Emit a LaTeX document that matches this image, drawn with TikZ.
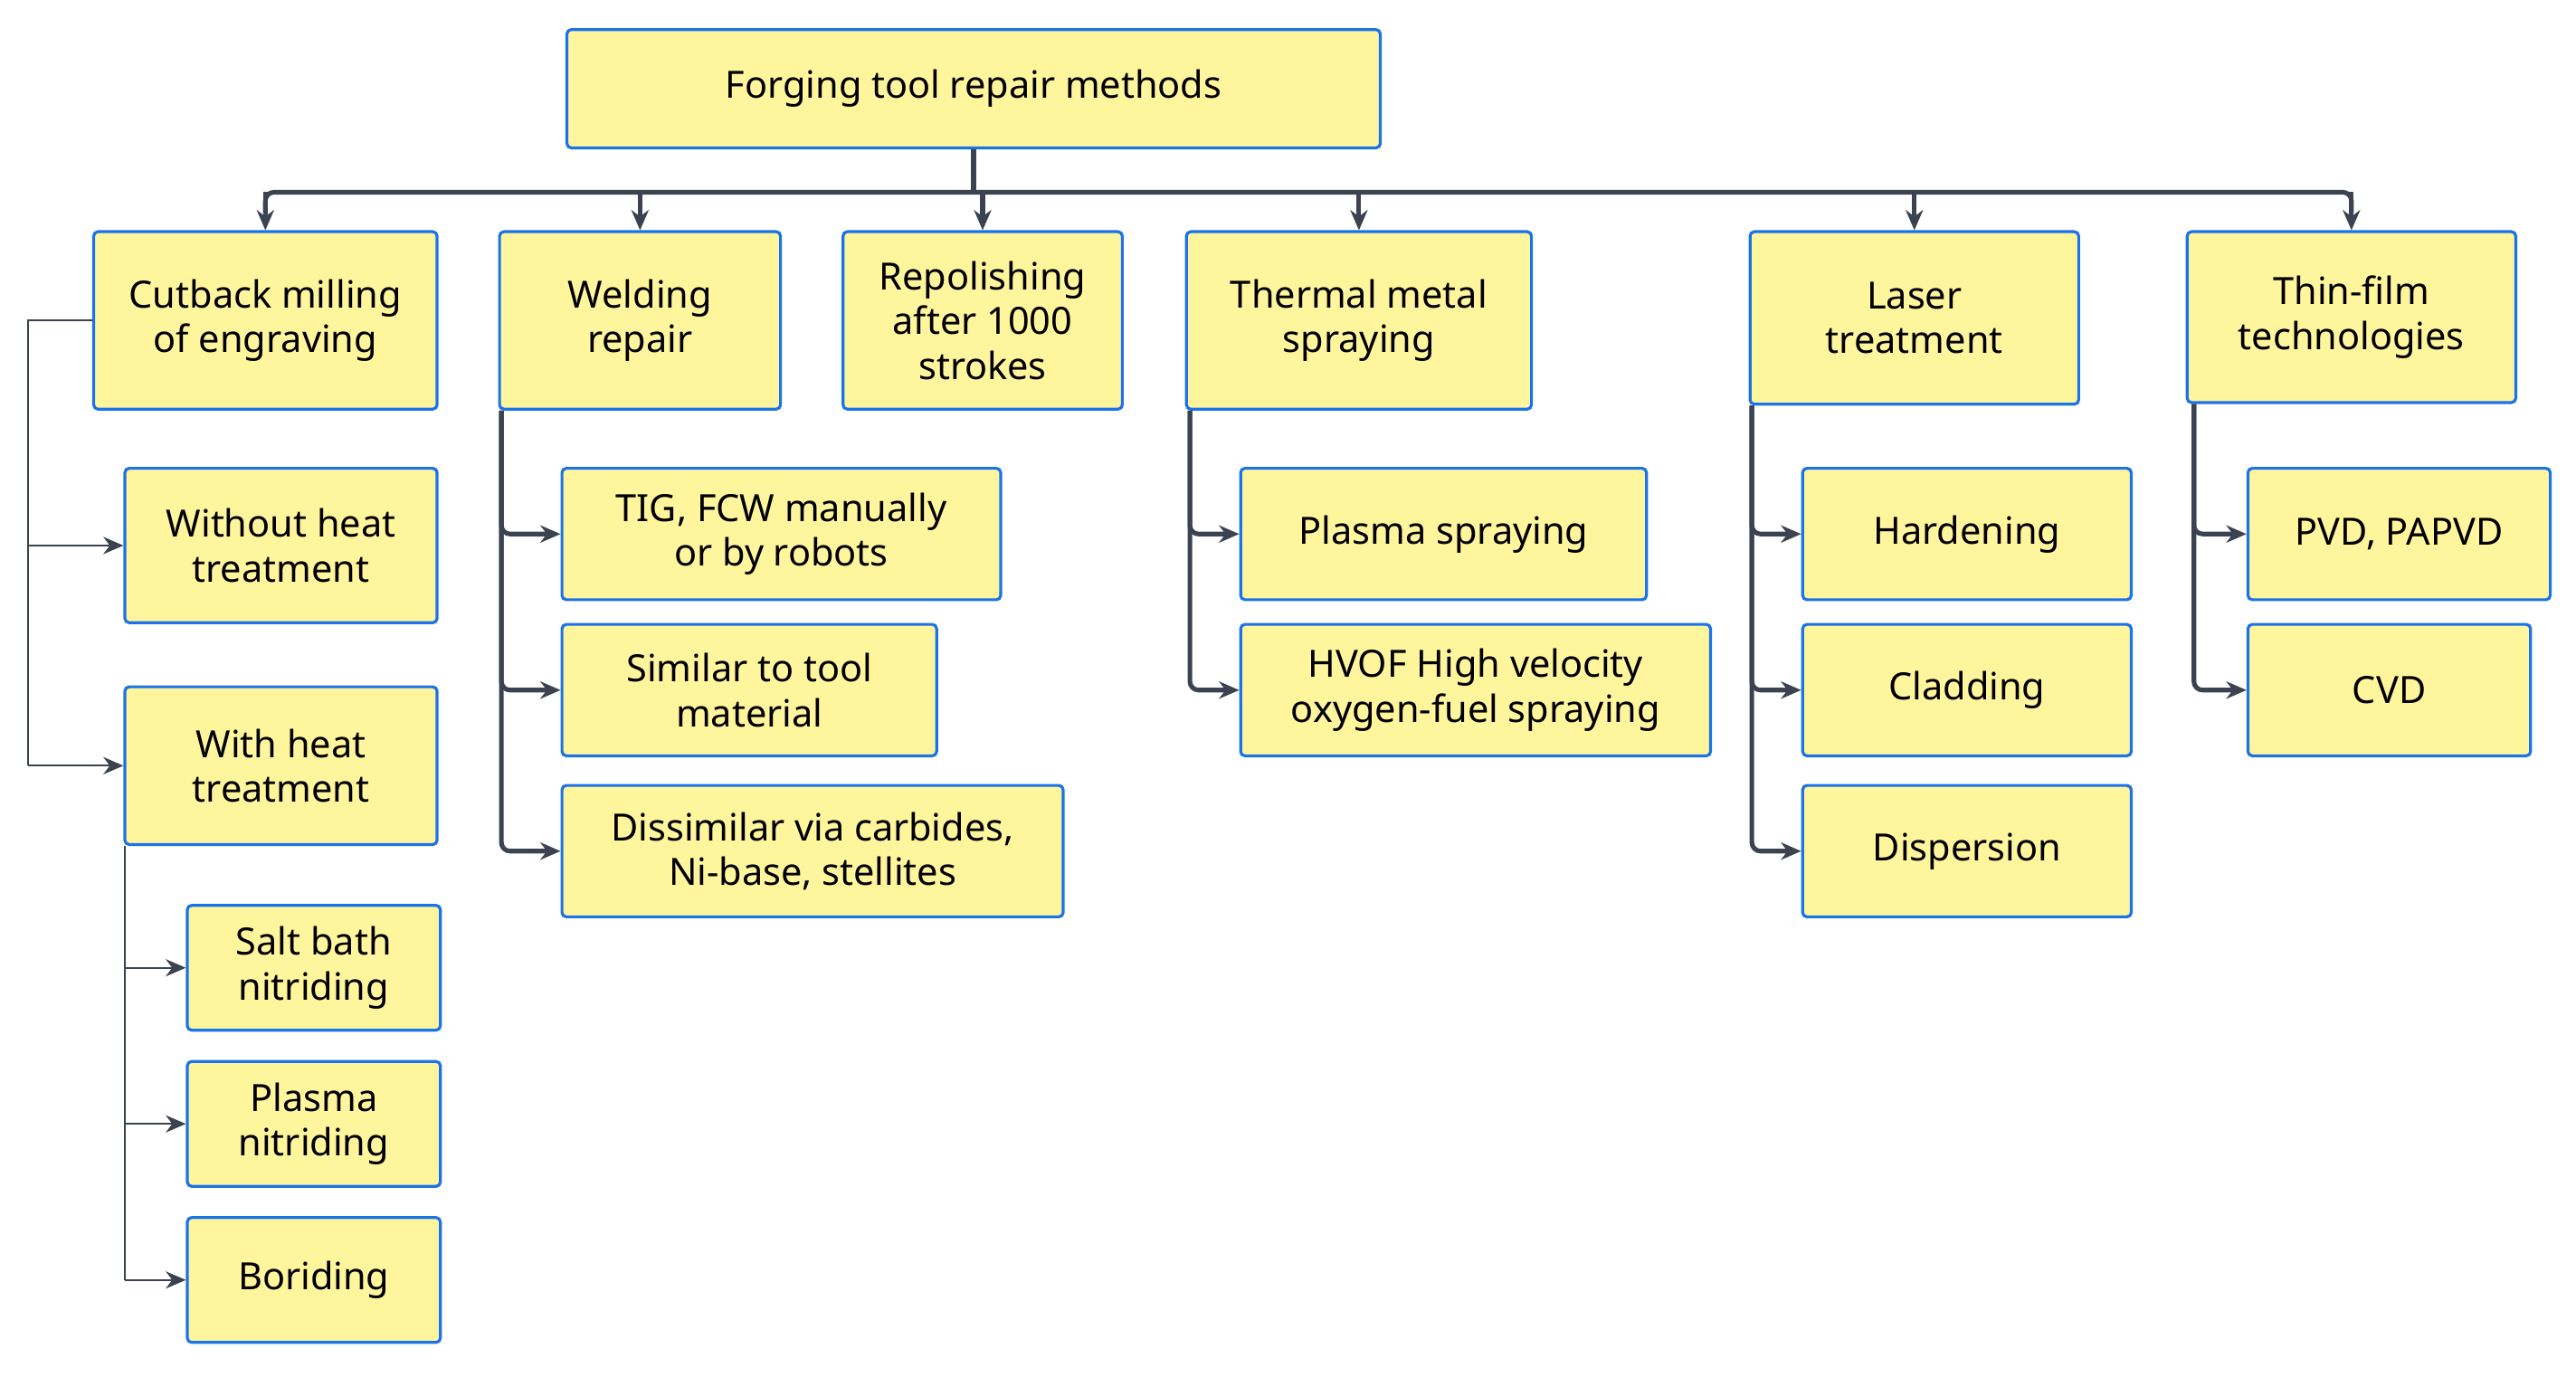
\documentclass[tikz,border=0pt]{standalone}
\usepackage{fontspec}
\setmainfont{Noto Sans}
\usetikzlibrary{arrows.meta,calc}
\definecolor{boxfill}{HTML}{FFF59D}
\definecolor{boxline}{HTML}{1A73E8}
\definecolor{ln}{HTML}{3B4350}
\tikzset{
 box/.style={draw=boxline,fill=boxfill,line width=1pt,rounded corners=1.5pt,align=center,inner sep=0pt,font=\fontsize{13}{15.5}\selectfont},
 thk/.style={draw=ln,line width=1.6pt,-{Stealth[length=7pt,width=6pt]}},
 thn/.style={draw=ln,line width=0.6pt,-{Stealth[length=7pt,width=6pt]}},
}
\newcommand\bx[6]{\node[box,minimum width={(#4-#2)*0.02cm},minimum height={(#5-#3)*0.02cm}] (#1) at ({(#2+#4)/2*0.02},{-(#3+#5)/2*0.02}) {#6};}
\begin{document}
\begin{tikzpicture}
\useasboundingbox (0,0) rectangle (31.36,-16.76);
\bx{R}{345}{18}{840}{90}{Forging tool repair methods}
\bx{A}{57}{141}{266}{249}{Cutback milling\\of engraving}
\bx{B}{304}{141}{475}{249}{Welding\\repair}
\bx{C}{513}{141}{683}{249}{Repolishing\\after 1000\\strokes}
\bx{D}{722}{141}{932}{249}{Thermal metal\\spraying}
\bx{E}{1065}{141}{1265}{246}{Laser\\treatment}
\bx{F}{1331}{141}{1531}{245}{Thin-film\\technologies}
\bx{A1}{76}{285}{266}{379}{Without heat\\treatment}
\bx{A2}{76}{418}{266}{514}{With heat\\treatment}
\bx{A21}{114}{551}{268}{627}{Salt bath\\nitriding}
\bx{A22}{114}{646}{268}{722}{Plasma\\nitriding}
\bx{A23}{114}{741}{268}{817}{Boriding}
\bx{B1}{342}{285}{609}{365}{TIG, FCW manually\\or by robots}
\bx{B2}{342}{380}{570}{460}{Similar to tool\\material}
\bx{B3}{342}{478}{647}{558}{Dissimilar via carbides,\\Ni-base, stellites}
\bx{D1}{755}{285}{1002}{365}{Plasma spraying}
\bx{D2}{755}{380}{1041}{460}{HVOF High velocity\\oxygen-fuel spraying}
\bx{E1}{1097}{285}{1297}{365}{Hardening}
\bx{E2}{1097}{380}{1297}{460}{Cladding}
\bx{E3}{1097}{478}{1297}{558}{Dispersion}
\bx{F1}{1368}{285}{1552}{365}{PVD, PAPVD}
\bx{F2}{1368}{380}{1540}{460}{CVD}
% bus
\coordinate (bus) at (0,-2.34);
\draw[draw=ln,line width=1.6pt,rounded corners=3pt] (R.south) -- (R.south|-bus);
\draw[draw=ln,line width=1.6pt,rounded corners=3pt] ($(A.north|-bus)+(0,-0.25)$) |- ($(F.north|-bus)+(0,0.0)$) -- ($(F.north|-bus)+(0,-0.25)$);
\foreach \n in {A,B,C,D,E,F}{\draw[thk] (\n.north|-bus) -- (\n.north);}
% A
\draw[draw=ln,line width=0.6pt] (A.west) -- ++(-0.78,0) coordinate (a0) -- (a0|-A2.west);
\draw[thn] (a0|-A1.west) -- (A1.west);
\draw[thn] (a0|-A2.west) -- (A2.west);
\coordinate (a2) at ($(A2.south west)+(0.02,0)$);
\draw[draw=ln,line width=0.6pt] (a2) -- (a2|-A23.west);
\foreach \n in {A21,A22,A23}{\draw[thn] (a2|-\n.west) -- (\n.west);}
% others
\foreach \p/\xs/\kids in {B/0.04/{B1,B2,B3},D/0.06/{D1,D2},E/0.04/{E1,E2,E3},F/0.1/{F1,F2}}{
 \coordinate (p0) at ($(\p.south west)+(\xs,0)$);
 \foreach \k in \kids {\draw[thk,rounded corners=3pt] (p0) |- (\k.west);}
}
\end{tikzpicture}
\end{document}
